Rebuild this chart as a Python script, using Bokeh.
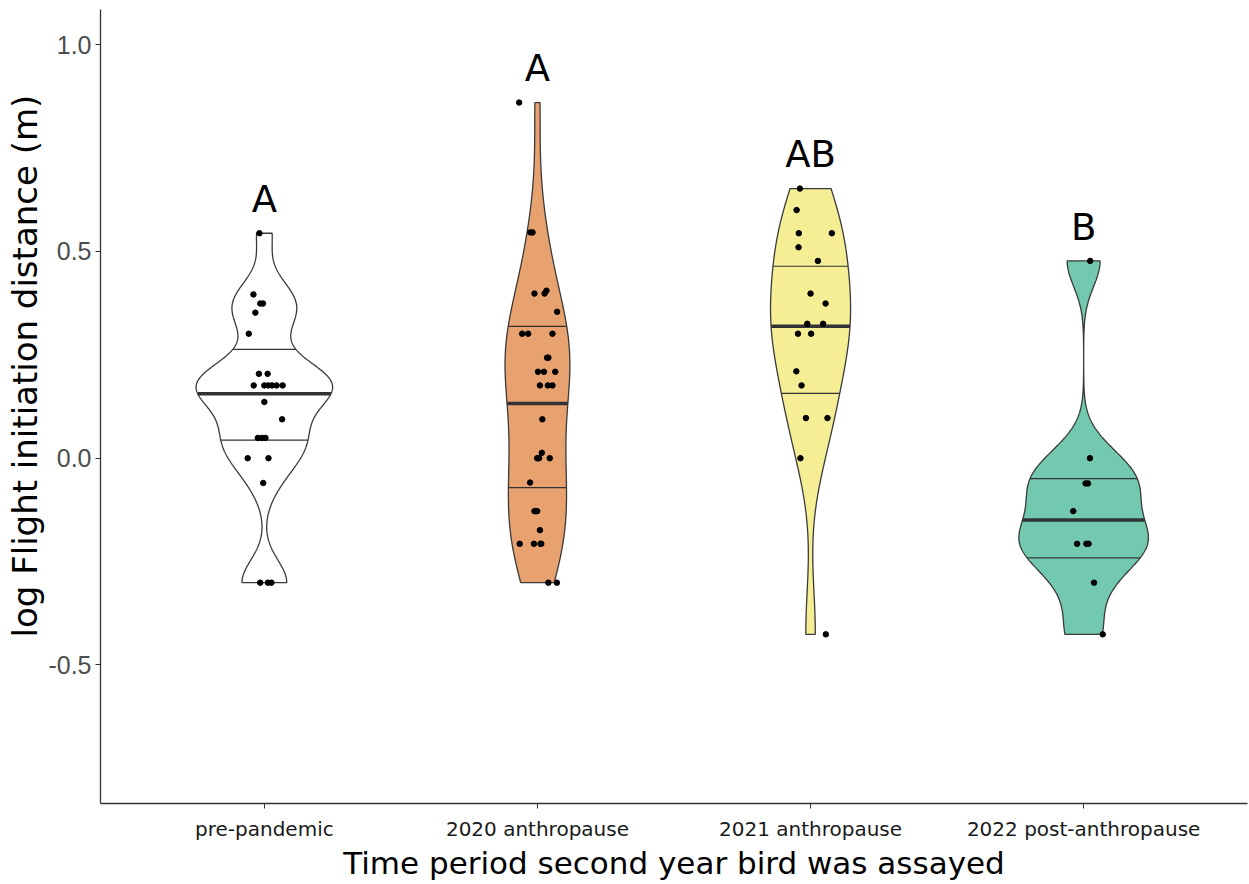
import numpy as np
from bokeh.plotting import figure
from bokeh.models import FixedTicker, Range1d, Title
from bokeh.embed import file_html
from bokeh.resources import INLINE

# ---------------- data ----------------
categories = ["pre-pandemic", "2020 anthropause", "2021 anthropause", "2022 post-anthropause"]
fill_colors = ["#FFFFFF", "#E8A26F", "#F5EE95", "#72C9B0"]
letters = ["A", "A", "AB", "B"]
y_ticks = [-0.5, 0.0, 0.5, 1.0]

pre_values = [0.544, 0.396, 0.374, 0.374, 0.352, 0.301, 0.204, 0.204,
              0.176, 0.176, 0.176, 0.176, 0.176, 0.176, 0.136, 0.094,
              0.049, 0.049, 0.049, 0.0, 0.0, -0.06, -0.301, -0.301, -0.301]
pre_jitter = [-0.018, -0.040, -0.015, -0.005, -0.033, -0.057, -0.020, 0.012,
              -0.039, 0.000, 0.014, 0.028, 0.045, 0.067, 0.000, 0.065,
              -0.024, -0.009, 0.004, -0.061, 0.015, -0.004, -0.015, 0.013, 0.026]

a2020_values = [0.860, 0.546, 0.546, 0.398, 0.398, 0.405, 0.354, 0.301, 0.301, 0.301,
                0.243, 0.243, 0.209, 0.209, 0.209, 0.176, 0.176, 0.176, 0.094,
                0.013, 0.0, 0.0, 0.0, 0.0, -0.059, -0.128, -0.128, -0.128, -0.174,
                -0.207, -0.207, -0.207, -0.207, -0.301, -0.301]
a2020_jitter = [-0.067, -0.026, -0.018, -0.011, 0.026, 0.033, 0.072, -0.056, -0.034, 0.055,
                0.035, 0.040, 0.002, 0.024, 0.065, 0.009, 0.038, 0.055, 0.018,
                0.016, -0.001, 0.006, 0.045, 0.003, -0.027, -0.011, -0.001, -0.006, 0.009,
                -0.065, -0.013, 0.011, 0.014, 0.040, 0.071]

a2021_values = [0.652, 0.600, 0.544, 0.544, 0.510, 0.477, 0.398, 0.374,
                0.325, 0.325, 0.301, 0.301, 0.210, 0.176, 0.097, 0.097, 0.0, -0.426]
a2021_jitter = [-0.039, -0.051, -0.043, 0.078, -0.044, 0.027, 0.000, 0.055,
                -0.012, 0.046, -0.046, 0.002, -0.052, -0.033, -0.017, 0.062, -0.037, 0.056]

p2022_values = [0.477, 0.0, -0.061, -0.061, -0.128, -0.207, -0.207, -0.207, -0.301, -0.426]
p2022_jitter = [0.024, 0.023, 0.007, 0.016, -0.038, -0.024, 0.010, 0.018, 0.038, 0.070]

groups_values = [pre_values, a2020_values, a2021_values, p2022_values]
groups_jitter = [pre_jitter, a2020_jitter, a2021_jitter, p2022_jitter]

# ---------------- violin statistics (like ggplot2 stat_ydensity) ----------------
VIOLIN_WIDTH = 0.5


def bw_nrd0(x):
    x = np.asarray(x, float)
    sd = np.std(x, ddof=1)
    iqr = np.subtract(*np.percentile(x, [75, 25]))
    lo = min(sd, iqr / 1.34) if iqr > 0 else sd
    return 0.9 * lo * len(x) ** (-0.2)


def kde(x, n=512):
    x = np.asarray(x, float)
    bw = bw_nrd0(x)
    grid = np.linspace(x.min(), x.max(), n)
    d = np.exp(-0.5 * ((grid[:, None] - x[None, :]) / bw) ** 2).sum(axis=1)
    d /= (len(x) * bw * np.sqrt(2 * np.pi))
    return grid, d


dens = [kde(v) for v in groups_values]
global_max = max(d.max() for _, d in dens)

p = figure(width=1249, height=884, output_backend="svg", toolbar_location=None,
           x_range=Range1d(0.4, 4.6), y_range=Range1d(-0.835, 1.085),
           min_border_left=100, min_border_right=2, min_border_top=9, min_border_bottom=81)
p.outline_line_color = None
p.grid.grid_line_color = None
p.background_fill_color = "white"
p.border_fill_color = "white"

for i, ((grid, d), vals, jit) in enumerate(zip(dens, groups_values, groups_jitter)):
    cx = i + 1
    half = VIOLIN_WIDTH / 2 * d / global_max
    xs = np.concatenate([cx - half, (cx + half)[::-1]])
    ys = np.concatenate([grid, grid[::-1]])
    p.patch(xs, ys, fill_color=fill_colors[i], line_color="#3a3a3a", line_width=1.3)

    cdf = np.cumsum(d) / d.sum()
    for q in [0.25, 0.5, 0.75]:
        yq = np.interp(q, cdf, grid)
        hq = np.interp(yq, grid, half)
        p.segment(x0=[cx - hq], y0=[yq], x1=[cx + hq], y1=[yq],
                  line_color="#333333", line_width=3.5 if q == 0.5 else 1.2)

    p.scatter(x=[cx + j for j in jit], y=vals, size=5.5, fill_color="black",
              line_color="black")

    p.text(x=[cx], y=[max(vals) + 0.082], text=[letters[i]], text_align="center",
           text_baseline="alphabetic", text_font_size="37px", text_color="black",
           text_font={"value": "DejaVu Sans"})

# ---------------- axes ----------------
p.xaxis.ticker = FixedTicker(ticks=[1, 2, 3, 4])
p.xaxis.major_label_overrides = {1: categories[0], 2: categories[1], 3: categories[2], 4: categories[3]}
p.yaxis.ticker = FixedTicker(ticks=y_ticks)
p.yaxis.major_label_overrides = {-0.5: "-0.5", 0: "0.0", 0.5: "0.5", 1: "1.0"}

p.xaxis.axis_label = "Time period second year bird was assayed"

for ax in (p.xaxis, p.yaxis):
    ax.axis_line_color = "#333333"
    ax.axis_line_width = 1.3
    ax.major_tick_line_color = "#333333"
    ax.major_tick_in = 0
    ax.major_tick_out = 5
    ax.minor_tick_line_color = None
    ax.axis_label_text_font_style = "normal"
    ax.axis_label_text_color = "black"

p.xaxis.major_label_text_font = "DejaVu Sans"
p.xaxis.major_label_text_font_size = "20px"
p.xaxis.major_label_text_color = "#1a1a1a"
p.xaxis.major_label_standoff = 8
p.xaxis.axis_label_text_font = "DejaVu Sans"
p.xaxis.axis_label_text_font_size = "31px"
p.xaxis.axis_label_standoff = 1

p.yaxis.major_label_text_font = "Liberation Sans"
p.yaxis.major_label_text_font_size = "25px"
p.yaxis.major_label_text_color = "#4d4d4d"
p.yaxis.major_label_standoff = 4

ytitle = Title(text="log Flight initiation distance (m)", align="left", offset=166,
               text_font="DejaVu Sans", text_font_size="34px", text_font_style="normal",
               text_color="black", standoff=2)
p.add_layout(ytitle, "left")

open("out.html", "w").write(file_html(p, INLINE))
